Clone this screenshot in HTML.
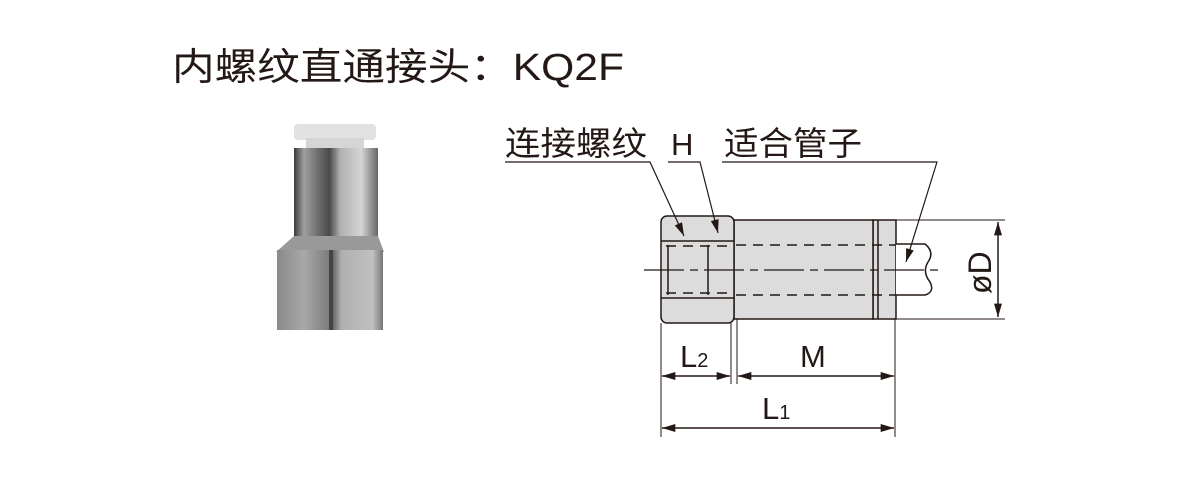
<!DOCTYPE html>
<html><head><meta charset="utf-8"><style>
html,body{margin:0;padding:0;background:#fff;width:1200px;height:500px;overflow:hidden}
svg{display:block}
text{font-family:"Liberation Sans","Noto Sans CJK SC",sans-serif;fill:#231815}
</style></head><body>
<svg width="1200" height="500" viewBox="0 0 1200 500" xmlns="http://www.w3.org/2000/svg">
<defs>
<linearGradient id="cyl" x1="0" x2="1" y1="0" y2="0">
<stop offset="0" stop-color="#3a3a3a"/><stop offset="0.12" stop-color="#a0a0a0"/><stop offset="0.3" stop-color="#6a6a6a"/><stop offset="0.42" stop-color="#4a4a4a"/><stop offset="0.55" stop-color="#b0b0b0"/><stop offset="0.8" stop-color="#d5d5d5"/><stop offset="1" stop-color="#666"/>
</linearGradient>
<linearGradient id="hexL" x1="0" x2="1"><stop offset="0" stop-color="#8a8a8a"/><stop offset="0.5" stop-color="#a8a8a8"/><stop offset="1" stop-color="#7a7a7a"/></linearGradient>
<linearGradient id="hexR" x1="0" x2="1"><stop offset="0" stop-color="#555"/><stop offset="0.2" stop-color="#b0b0b0"/><stop offset="0.8" stop-color="#c0c0c0"/><stop offset="1" stop-color="#777"/></linearGradient>
<marker id="ar" viewBox="0 0 10 6" refX="10" refY="3" markerWidth="14" markerHeight="8" markerUnits="userSpaceOnUse" orient="auto-start-reverse"><path d="M0,0 L10,3 L0,6 z" fill="#231815"/></marker>
</defs>
<text x="172" y="80" font-size="38" textLength="452" lengthAdjust="spacingAndGlyphs">内螺纹直通接头：KQ2F</text>

<!-- photo -->
<rect x="294" y="124" width="82" height="16" rx="4" fill="#e2e2e2"/>
<rect x="306" y="138" width="58" height="10" fill="#d5d5d5"/>
<rect x="294" y="148" width="84" height="96" fill="url(#cyl)"/>
<path d="M294,236 L378,236 L384,252 L276,252 Z" fill="#999"/>
<rect x="277" y="250" width="54" height="80" fill="url(#hexL)"/>
<rect x="331" y="250" width="52" height="80" fill="url(#hexR)"/>
<rect x="329" y="250" width="4" height="80" fill="#444"/>

<!-- drawing -->
<g stroke="#231815" stroke-width="1.5" fill="none">
<rect x="873" y="220" width="23" height="99" fill="#dcdcdc"/>
<rect x="734" y="220" width="139" height="99" fill="#dcdcdc"/>
<rect x="661" y="216" width="73" height="107" rx="6" fill="#dcdcdc"/>
<line x1="661" y1="241" x2="734" y2="241"/>
<line x1="661" y1="298" x2="734" y2="298"/>
<line x1="668" y1="245" x2="668" y2="295"/>
<line x1="708" y1="245" x2="708" y2="295"/>
<line x1="878" y1="220" x2="878" y2="319"/>
<path d="M896,244 L925,244 Q935,252 928,262 Q922,272 930,282 Q935,292 925,295 L896,295" fill="#fff"/>
<g stroke-dasharray="10,7">
<line x1="736" y1="245" x2="896" y2="245"/>
<line x1="736" y1="295" x2="896" y2="295"/>
<line x1="666" y1="246" x2="730" y2="246"/>
<line x1="666" y1="293" x2="730" y2="293"/>
</g>
<line x1="644" y1="270" x2="943" y2="270" stroke-dasharray="40,6,8,6" stroke-width="1.2"/>
<line x1="896" y1="220" x2="1005" y2="220" stroke-width="1"/>
<line x1="896" y1="319" x2="1005" y2="319" stroke-width="1"/>
<line x1="998" y1="222" x2="998" y2="317" marker-start="url(#ar)" marker-end="url(#ar)"/>
<line x1="661" y1="323" x2="661" y2="437" stroke-width="1"/>
<line x1="731" y1="323" x2="731" y2="384" stroke-width="1"/>
<line x1="737" y1="319" x2="737" y2="384" stroke-width="1"/>
<line x1="895" y1="319" x2="895" y2="437" stroke-width="1"/>
<line x1="662" y1="376" x2="730" y2="376" marker-start="url(#ar)" marker-end="url(#ar)"/>
<line x1="738" y1="376" x2="894" y2="376" marker-start="url(#ar)" marker-end="url(#ar)"/>
<line x1="662" y1="428" x2="894" y2="428" marker-start="url(#ar)" marker-end="url(#ar)"/>
<polyline points="505,162 650,162 684,236" stroke-width="1.2" marker-end="url(#ar)"/>
<polyline points="668,162 700,162 718,233" stroke-width="1.2" marker-end="url(#ar)"/>
<polyline points="722,162 937,162 906,262" stroke-width="1.2" marker-end="url(#ar)"/>
</g>
<text x="505" y="155" font-size="33" textLength="142" lengthAdjust="spacingAndGlyphs">连接螺纹</text>
<text x="671" y="155" font-size="31">H</text>
<text x="724" y="155" font-size="33" textLength="138" lengthAdjust="spacingAndGlyphs">适合管子</text>
<text x="680" y="367" font-size="31">L<tspan font-size="20">2</tspan></text>
<text x="800" y="367" font-size="31">M</text>
<text x="762" y="419" font-size="31">L<tspan font-size="20">1</tspan></text>
<text x="0" y="0" font-size="32" transform="translate(991,294) rotate(-90)">øD</text>
</svg>
</body></html>
